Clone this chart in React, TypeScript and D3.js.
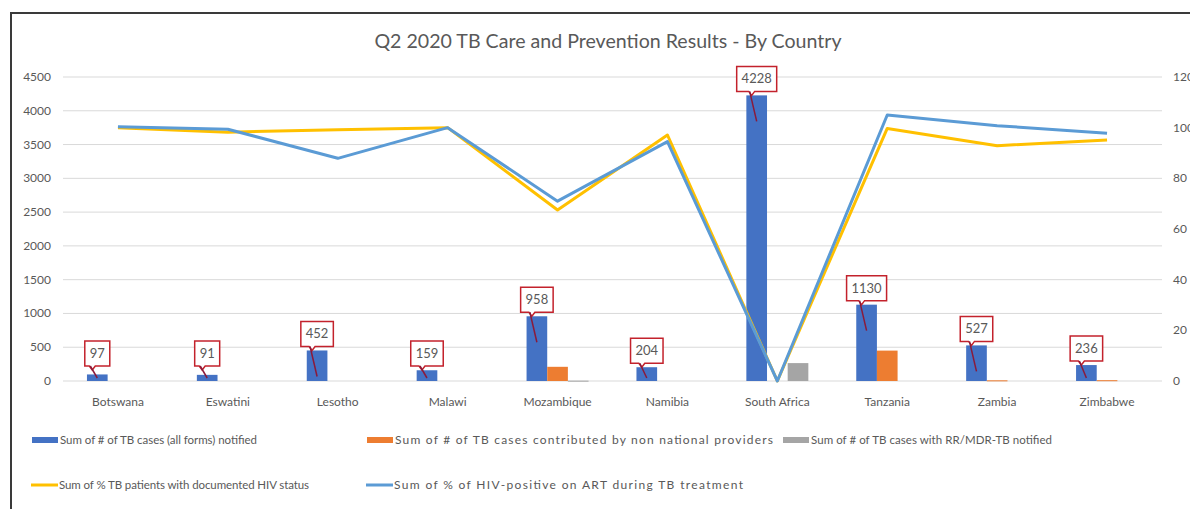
import React from 'react';
import * as d3 from 'd3';

const categories = ['Botswana', 'Eswatini', 'Lesotho', 'Malawi', 'Mozambique', 'Namibia', 'South Africa', 'Tanzania', 'Zambia', 'Zimbabwe'];
const tbNotified = [97, 91, 452, 159, 958, 204, 4228, 1130, 527, 236];
const nonNational = [0, 0, 0, 0, 210, 0, 0, 450, 10, 12];
const rrMdr = [0, 0, 0, 0, 5, 0, 265, 0, 0, 0];
const hivStatusPct = [100, 98.2, 99.2, 100, 67.5, 97.1, 0, 99.7, 92.9, 95.1];
const artPct = [100.4, 99.4, 87.9, 100, 71, 94.5, 0, 105, 100.8, 97.8];
const leftTicks = [0, 500, 1000, 1500, 2000, 2500, 3000, 3500, 4000, 4500];
const rightTicks = [0, 20, 40, 60, 80, 100, 120];

const barSeries = [
  { name: 'Sum of # of TB cases (all forms) notified', values: tbNotified, color: '#4472c4' },
  { name: 'Sum of # of TB cases contributed by non national providers', values: nonNational, color: '#ed7d31' },
  { name: 'Sum of # of TB cases with  RR/MDR-TB notified', values: rrMdr, color: '#a5a5a5' },
];
const lineSeries = [
  { name: 'Sum of % TB patients with documented HIV status', values: hivStatusPct, color: '#ffc000' },
  { name: 'Sum of % of HIV-positive  on ART during TB treatment', values: artPct, color: '#5b9bd5' },
];

const FONT = 'Lato, "Open Sans", sans-serif';
const TXT = '#595959';

export default function App() {
  const left = 63, right = 1162, top = 77, bottom = 381;
  const x0 = d3.scaleBand<string>().domain(categories).range([left, right]).paddingInner(0.436).paddingOuter(0.218);
  const x1 = d3.scaleBand<number>().domain([0, 1, 2]).range([0, x0.bandwidth()]);
  const yL = d3.scaleLinear().domain([0, 4500]).range([bottom, top]);
  const yR = d3.scaleLinear().domain([0, 120]).range([bottom, top]);
  const cx = (c: string) => (x0(c) as number) + x0.bandwidth() / 2;
  const line = d3.line<number>().x((_, i) => cx(categories[i])).y((v) => yR(v));

  const legendRows = [
    [
      { s: barSeries[0], x: 32, kind: 'bar', tw: 197, fs: 11.5 },
      { s: barSeries[1], x: 367, kind: 'bar', tw: 378, fs: 12 },
      { s: barSeries[2], x: 783, kind: 'bar', tw: 241, fs: 11.5 },
    ],
    [
      { s: lineSeries[0], x: 31, kind: 'line', tw: 250, fs: 11.5 },
      { s: lineSeries[1], x: 366, kind: 'line', tw: 349, fs: 12 },
    ],
  ];
  const legendY = [440, 485];

  return (
    <svg width={1190} height={509} style={{ position: 'absolute', left: 0, top: 0, background: '#fff' }}>
      <rect x={11} y={13} width={1300} height={600} fill="#fff" stroke="#3a3a3a" strokeWidth={2} />
      <text x={608} y={48} textAnchor="middle" fontFamily={FONT} fontSize={19.6} fill={TXT}>
        Q2 2020 TB Care and Prevention Results - By Country
      </text>
      {leftTicks.map((t) => (
        <g key={'l' + t}>
          <line x1={left} x2={right} y1={yL(t)} y2={yL(t)} stroke="#d9d9d9" strokeWidth={1} />
          <text x={51} y={yL(t) + 4} textAnchor="end" fontFamily={FONT} fontSize={12} fill={TXT}>{t}</text>
        </g>
      ))}
      {rightTicks.map((t) => (
        <text key={'r' + t} x={1173} y={yR(t) + 4} textAnchor="start" fontFamily={FONT} fontSize={12} fill={TXT}>{t}</text>
      ))}
      {categories.map((c, i) => (
        <g key={c}>
          {barSeries.map((s, j) => {
            const v = s.values[i];
            if (v <= 0) return null;
            const bx = (x0(c) as number) + (x1(j) as number);
            return <rect key={j} x={bx} y={yL(v)} width={x1.bandwidth()} height={Math.max(1, bottom - yL(v))} fill={s.color} />;
          })}
          <text x={cx(c)} y={406} textAnchor="middle" fontFamily={FONT} fontSize={12} fill={TXT}>{c}</text>
        </g>
      ))}
      {lineSeries.map((s) => (
        <path key={s.name} d={line(s.values) as string} fill="none" stroke={s.color} strokeWidth={3} strokeLinejoin="round" />
      ))}
      {categories.map((c, i) => {
        const v = tbNotified[i];
        const bc = (x0(c) as number) + (x1(0) as number) + x1.bandwidth() / 2;
        const label = String(v);
        const w = label.length * 7.5 + 10;
        const h = 25;
        const bb = Math.min(yL(v) - 4, bottom - 15);
        const bt = bb - h;
        const bl = bc - w / 2;
        const tipY = Math.min(bb + 30, bottom - 3);
        const path = `M${bl},${bt} H${bl + w} V${bb} H${bc - 2} L${bc - 5},${bb + 4} L${bc - 8},${bb} H${bl} Z`;
        return (
          <g key={'lab' + c}>
            <path d={path} fill="#fff" stroke="#c3222c" strokeWidth={1.5} />
            <line x1={bc - 7} y1={bb} x2={bc} y2={tipY} stroke="#8b1a3a" strokeWidth={1.5} />
            <text x={bc} y={bt + 17} textAnchor="middle" fontFamily={FONT} fontSize={13} fill={TXT}>{label}</text>
          </g>
        );
      })}
      {legendRows.map((row, r) =>
        row.map((it) => (
          <g key={it.s.name}>
            {it.kind === 'bar' ? (
              <rect x={it.x} y={legendY[r] - 3} width={26} height={6} fill={it.s.color} />
            ) : (
              <line x1={it.x} x2={it.x + 27} y1={legendY[r]} y2={legendY[r]} stroke={it.s.color} strokeWidth={3} />
            )}
            <text x={it.x + 28} y={legendY[r] + 4} fontFamily={FONT} fontSize={it.fs} fill={TXT} textLength={it.tw} lengthAdjust="spacing">{it.s.name}</text>
          </g>
        ))
      )}
    </svg>
  );
}
